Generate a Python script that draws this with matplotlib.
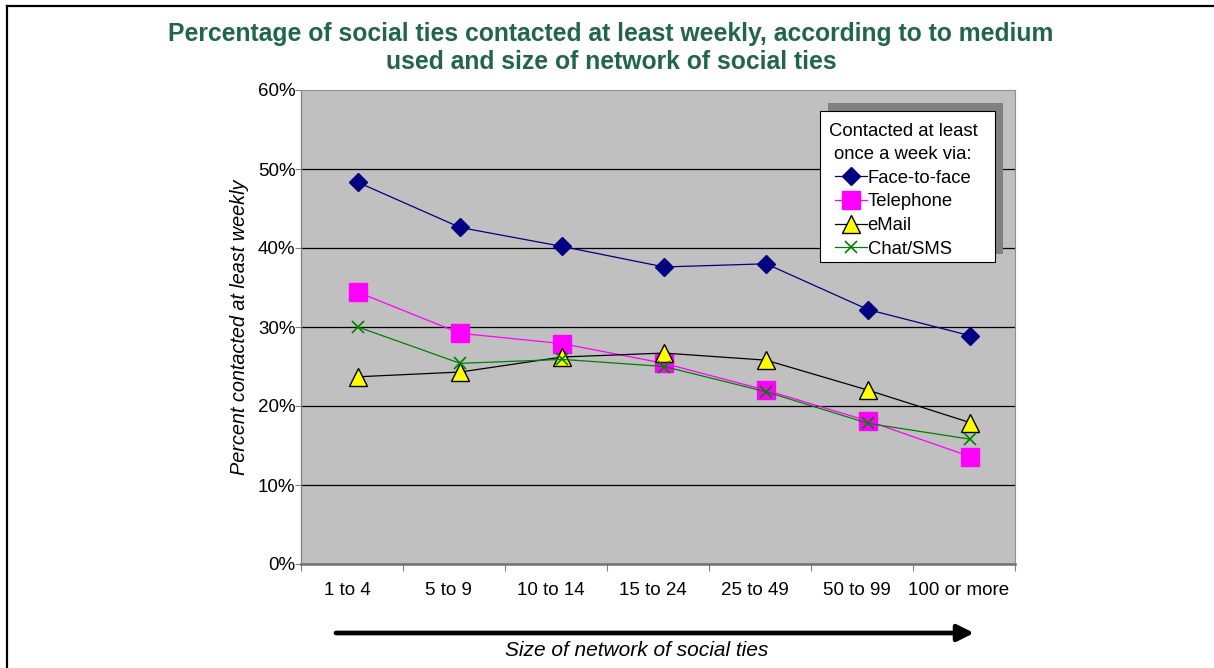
'''Percentage of social ties contacted at least weekly, by medium and network size'''
import matplotlib
matplotlib.use('Agg')
import matplotlib.pyplot as plt
from matplotlib.patches import Rectangle
from matplotlib.lines import Line2D
from matplotlib.ticker import FuncFormatter, FixedLocator

plt.rcParams['font.family'] = ['Liberation Sans', 'DejaVu Sans']

categorieen = ['1 to 4', '5 to 9', '10 to 14', '15 to 24', '25 to 49', '50 to 99', '100 or more']
face_to_face = [48.3, 42.6, 40.2, 37.6, 38.0, 32.2, 28.9]
telefoon = [34.4, 29.2, 27.9, 25.4, 22.0, 18.1, 13.6]
email = [23.7, 24.3, 26.2, 26.7, 25.8, 22.0, 17.9]
chat_sms = [30.0, 25.4, 25.9, 25.0, 21.8, 17.8, 15.8]

W, H = 1214, 668
fig = plt.figure(figsize=(W / 100, H / 100), dpi=100)
fig.patch.set_facecolor('white')

# plot area in pixels: x 301..1015, y 90..564
AX_L, AX_R, AX_T, AX_B = 301, 1015, 90, 564
ax = fig.add_axes([AX_L / W, 1 - AX_B / H, (AX_R - AX_L) / W, (AX_B - AX_T) / H])
ax.set_facecolor('#C0C0C0')


def px_naar_assen(px, py):
    '''pixelpositie (vanaf linksboven) naar assen-coordinaten'''
    return (px - AX_L) / (AX_R - AX_L), (AX_B - py) / (AX_B - AX_T)


x = list(range(len(categorieen)))
ax.plot(x, face_to_face, color='#000080', lw=0.9, marker='D', ms=9,
        mfc='#000080', mec='#000080', label='Face-to-face', zorder=3)
ax.plot(x, telefoon, color='#FF00FF', lw=0.9, marker='s', ms=12.5,
        mfc='#FF00FF', mec='#FF00FF', label='Telephone', zorder=3)
ax.plot(x, email, color='black', lw=0.9, marker='^', ms=12.5,
        mfc='#FFFF00', mec='black', mew=1, label='eMail', zorder=3)
ax.plot(x, chat_sms, color='#008000', lw=0.9, marker='x', ms=8,
        mec='#008000', mew=1.2, label='Chat/SMS', zorder=3)

# markers sit a bit right of the category centre in the original
verschuiving = 0.06
ax.set_xlim(-0.5 - verschuiving, len(categorieen) - 0.5 - verschuiving)
ax.set_ylim(0, 60)

ax.set_yticks(range(0, 61, 10))
ax.yaxis.set_major_formatter(FuncFormatter(lambda v, p: f'{int(v)}%'))
ax.tick_params(axis='y', length=4, width=0.8, color='#808080', labelsize=13.5, pad=0)
for g in range(10, 60, 10):
    ax.axhline(g, color='black', lw=0.9, zorder=1)

grenzen = [i - 0.5 - verschuiving for i in range(len(categorieen) + 1)]
ax.xaxis.set_major_locator(FixedLocator(grenzen))
ax.xaxis.set_major_formatter(FuncFormatter(lambda v, p: ''))
ax.xaxis.set_minor_locator(FixedLocator([i - verschuiving - 0.05 for i in x]))
ax.set_xticklabels(categorieen, minor=True)
ax.tick_params(axis='x', which='major', length=5, width=0.8, color='#808080')
ax.tick_params(axis='x', which='minor', length=0, labelsize=13.5, pad=13)

for kant in ['top', 'right']:
    ax.spines[kant].set_color('#909090')
    ax.spines[kant].set_linewidth(0.8)
ax.spines['left'].set_color('#808080')
ax.spines['left'].set_linewidth(0.9)
ax.spines['bottom'].set_color('#707070')
ax.spines['bottom'].set_linewidth(1.8)

ax.set_ylabel('Percent contacted at least weekly', fontsize=14.3, style='italic', labelpad=6)

# legenda zonder eigen kader; kader en schaduw apart getekend
leg = ax.legend(loc='upper center', bbox_to_anchor=px_naar_assen(903, 123),
                borderaxespad=0, title='Contacted at least\nonce a week via:',
                fontsize=13.3, title_fontsize=13.3, frameon=False,
                handlelength=1.75, handletextpad=0.05, labelspacing=0.36, borderpad=0)
leg.get_title().set_multialignment('center')
leg.get_title().set_linespacing(1.47)
leg.set_zorder(7)

kx0, ky1 = px_naar_assen(820, 111)
kx1, ky0 = px_naar_assen(995, 262)
ax.add_patch(Rectangle((kx0, ky0), kx1 - kx0, ky1 - ky0, transform=ax.transAxes,
                       facecolor='white', edgecolor='black', lw=0.8, zorder=6, clip_on=False))
sx0, sy1 = px_naar_assen(828, 103)
sx1, sy0 = px_naar_assen(1003, 254)
ax.add_patch(Rectangle((sx0, sy0), sx1 - sx0, sy1 - sy0, transform=ax.transAxes,
                       facecolor='#808080', edgecolor='none', zorder=5, clip_on=False))

fig.text(611 / W, 1 - 48 / H,
         'Percentage of social ties contacted at least weekly, according to to medium\nused and size of network of social ties',
         ha='center', va='center', fontsize=17.8, fontweight='bold', color='#22664A',
         linespacing=1.25)

ax.annotate('', xy=(974 / W, 1 - 633 / H), xytext=(336 / W, 1 - 633 / H),
            xycoords='figure fraction', textcoords='figure fraction',
            arrowprops=dict(arrowstyle='-|>,head_length=0.7,head_width=0.35',
                            lw=3.4, color='black', shrinkA=0, shrinkB=0, mutation_scale=14))
fig.text(637 / W, 1 - 650 / H, 'Size of network of social ties', ha='center', va='center',
         fontsize=15, style='italic')

# rand om de figuur
fig.add_artist(Line2D([6.5 / W, 6.5 / W], [0, 1 - 5.5 / H], color='black', lw=1.6,
                      transform=fig.transFigure))
fig.add_artist(Line2D([6.5 / W, 1], [1 - 5.5 / H, 1 - 5.5 / H], color='black', lw=1.6,
                      transform=fig.transFigure))

fig.savefig('out.png', dpi=100)
